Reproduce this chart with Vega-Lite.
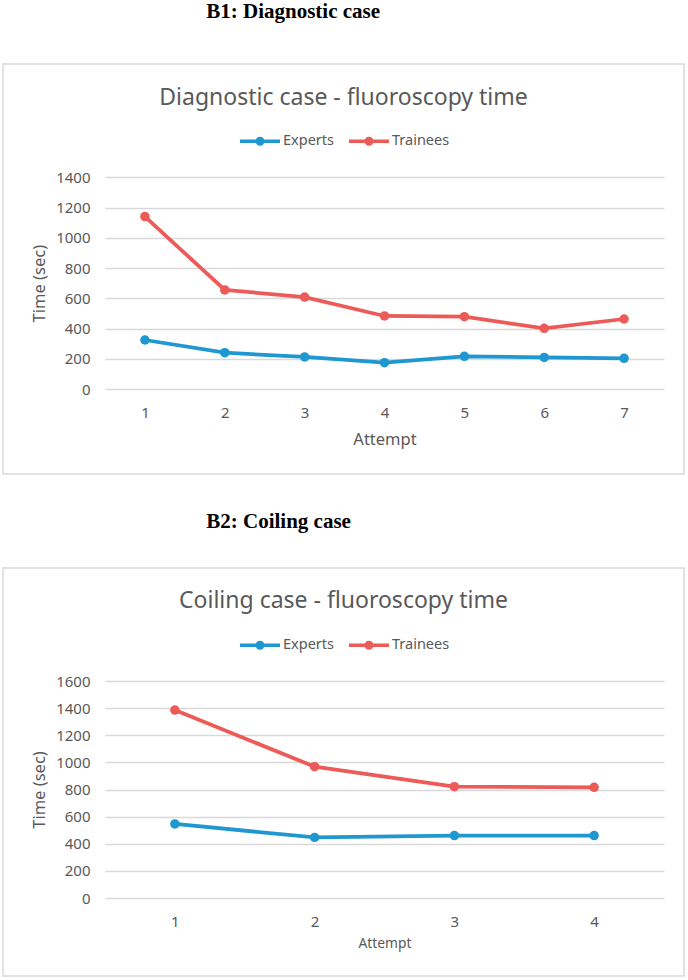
{
  "$schema": "https://vega.github.io/schema/vega-lite/v6.json",
  "background": "white",
  "padding": {"top": 1, "left": 2, "right": 2, "bottom": 2},
  "spacing": 36,
  "resolve": {"scale": {"color": "independent"}, "legend": {"color": "independent"}},
  "datasets": {
    "diagnostic": [
      {"attempt": 1, "group": "Experts", "time": 324},
      {"attempt": 2, "group": "Experts", "time": 240},
      {"attempt": 3, "group": "Experts", "time": 212},
      {"attempt": 4, "group": "Experts", "time": 174},
      {"attempt": 5, "group": "Experts", "time": 216},
      {"attempt": 6, "group": "Experts", "time": 209},
      {"attempt": 7, "group": "Experts", "time": 203},
      {"attempt": 1, "group": "Trainees", "time": 1140},
      {"attempt": 2, "group": "Trainees", "time": 655},
      {"attempt": 3, "group": "Trainees", "time": 608},
      {"attempt": 4, "group": "Trainees", "time": 483},
      {"attempt": 5, "group": "Trainees", "time": 478},
      {"attempt": 6, "group": "Trainees", "time": 401},
      {"attempt": 7, "group": "Trainees", "time": 463}
    ],
    "coiling": [
      {"attempt": 1, "group": "Experts", "time": 546},
      {"attempt": 2, "group": "Experts", "time": 447},
      {"attempt": 3, "group": "Experts", "time": 460},
      {"attempt": 4, "group": "Experts", "time": 460},
      {"attempt": 1, "group": "Trainees", "time": 1386},
      {"attempt": 2, "group": "Trainees", "time": 968},
      {"attempt": 3, "group": "Trainees", "time": 821},
      {"attempt": 4, "group": "Trainees", "time": 816}
    ]
  },
  "config": {
    "font": "Noto Sans",
    "view": {"stroke": "#d9d9d9", "strokeWidth": 1.5},
    "axis": {
      "domain": false,
      "ticks": false,
      "labelColor": "#595959",
      "titleColor": "#595959",
      "labelFont": "Noto Sans",
      "titleFont": "Noto Sans",
      "labelFontSize": 15,
      "titleFontSize": 16.5,
      "titleFontWeight": "normal",
      "gridColor": "#d9d9d9",
      "gridWidth": 1.5
    },
    "legend": {
      "orient": "none",
      "direction": "horizontal",
      "title": null,
      "labelFont": "Noto Sans",
      "labelFontSize": 14.5,
      "labelColor": "#595959",
      "labelOffset": 3,
      "columnPadding": 15,
      "symbolSize": 1600,
      "symbolStrokeWidth": 0,
      "symbolType": "M-1,-0.0875L1,-0.0875L1,0.0875L-1,0.0875Z M0.225,0A0.225,0.225 0 1 1 -0.225,0A0.225,0.225 0 1 1 0.225,0Z"
    }
  },
  "vconcat": [
    {
      "title": {
        "text": "B1: Diagnostic case",
        "anchor": "start",
        "dx": 204,
        "offset": 41,
        "font": "Liberation Serif",
        "fontSize": 21,
        "fontWeight": "bold",
        "color": "#000000"
      },
      "vconcat": [
        {
          "width": 681,
          "height": 410,
          "data": {"name": "diagnostic"},
          "title": {
            "text": "Diagnostic case - fluoroscopy time",
            "anchor": "middle",
            "frame": "group",
            "offset": -46,
            "font": "Noto Sans",
            "fontSize": 23,
            "fontWeight": "normal",
            "color": "#595959"
          },
          "encoding": {
            "x": {
              "field": "attempt",
              "type": "ordinal",
              "scale": {"type": "point", "range": [102, 661], "padding": 0.5},
              "axis": {"title": "Attempt", "labelAngle": 0, "grid": false, "offset": -85, "labelPadding": 16, "titlePadding": 11}
            },
            "y": {
              "field": "time",
              "type": "quantitative",
              "scale": {"domain": [0, 1400], "range": [325, 113.3], "nice": false, "zero": true},
              "axis": {"title": "Time (sec)", "format": "d", "values": [0, 200, 400, 600, 800, 1000, 1200, 1400], "offset": -102, "labelPadding": 15, "titlePadding": 8}
            },
            "color": {
              "field": "group",
              "type": "nominal",
              "scale": {"domain": ["Experts", "Trainees"], "range": ["#1f97d0", "#ec5b57"]},
              "legend": {
                "legendX": 237,
                "legendY": 57,
                "encode": {"symbols": {"update": {"fill": {"signal": "datum.value === 'Experts' ? '#1f97d0' : '#ec5b57'"}, "opacity": {"value": 1}}}}
              }
            }
          },
          "layer": [
            {"mark": {"type": "line", "strokeWidth": 3.75}},
            {"mark": {"type": "circle", "size": 90, "opacity": 1}}
          ]
        }
      ]
    },
    {
      "title": {
        "text": "B2: Coiling case",
        "anchor": "start",
        "dx": 204,
        "offset": 35,
        "font": "Liberation Serif",
        "fontSize": 21,
        "fontWeight": "bold",
        "color": "#000000"
      },
      "vconcat": [
        {
          "width": 681,
          "height": 408,
          "data": {"name": "coiling"},
          "title": {
            "text": "Coiling case - fluoroscopy time",
            "anchor": "middle",
            "frame": "group",
            "offset": -45,
            "font": "Noto Sans",
            "fontSize": 23,
            "fontWeight": "normal",
            "color": "#595959"
          },
          "encoding": {
            "x": {
              "field": "attempt",
              "type": "ordinal",
              "scale": {"type": "point", "range": [102, 661], "padding": 0.5},
              "axis": {"title": "Attempt", "labelAngle": 0, "grid": false, "offset": -78, "labelPadding": 16, "titlePadding": 7, "titleFontSize": 13.8}
            },
            "y": {
              "field": "time",
              "type": "quantitative",
              "scale": {"domain": [0, 1600], "range": [330, 113], "nice": false, "zero": true},
              "axis": {"title": "Time (sec)", "format": "d", "values": [0, 200, 400, 600, 800, 1000, 1200, 1400, 1600], "offset": -102, "labelPadding": 15, "titlePadding": 8}
            },
            "color": {
              "field": "group",
              "type": "nominal",
              "scale": {"domain": ["Experts", "Trainees"], "range": ["#1f97d0", "#ec5b57"]},
              "legend": {
                "legendX": 237,
                "legendY": 57,
                "encode": {"symbols": {"update": {"fill": {"signal": "datum.value === 'Experts' ? '#1f97d0' : '#ec5b57'"}, "opacity": {"value": 1}}}}
              }
            }
          },
          "layer": [
            {"mark": {"type": "line", "strokeWidth": 3.75}},
            {"mark": {"type": "circle", "size": 90, "opacity": 1}}
          ]
        }
      ]
    }
  ]
}
